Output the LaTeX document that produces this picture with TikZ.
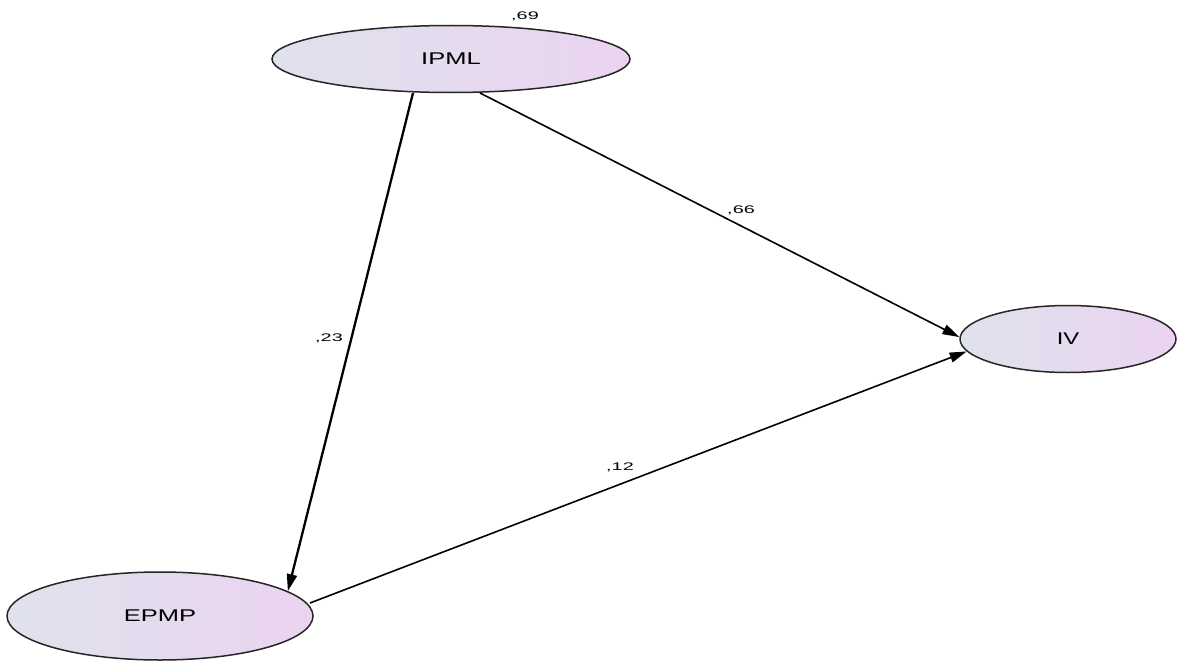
\documentclass[tikz,border=0pt]{standalone}
\usepackage{fontspec}
\setmainfont{Liberation Sans}
\usetikzlibrary{shapes.geometric,arrows.meta}
\definecolor{lft}{HTML}{DFE2EC}
\definecolor{rgt}{HTML}{EBD3F0}
\tikzset{
  latent/.style={ellipse, draw=black!85, line width=1.5pt, left color=lft, right color=rgt, inner sep=0pt},
  lbl/.style={font=\fontsize{11}{13}\selectfont, inner sep=0pt},
  path/.style={draw=black, line width=1.6pt, -{Triangle[length=17pt,width=10pt]}},
}
\newcommand{\wide}[2]{\scalebox{#1}[1]{#2}}
\begin{document}
\begin{tikzpicture}[x=1pt,y=-1pt]
\useasboundingbox[fill=white] (0,0) rectangle (1178,661);
\node[latent, minimum width=358pt, minimum height=67pt] (ipml) at (451,59) {\fontsize{17}{19}\selectfont\wide{1.5}{IPML}};
\node[latent, minimum width=216pt, minimum height=67pt] (iv) at (1068,339) {\fontsize{17}{19}\selectfont\wide{1.4}{IV}};
\node[latent, minimum width=306pt, minimum height=88pt] (epmp) at (160,616) {\fontsize{17}{19}\selectfont\wide{1.5}{EPMP}};
\coordinate (a1) at (413,93);
\coordinate (a2) at (480,93);
\coordinate (b1) at (310,603);
\draw[path, line width=2.3pt] (a1) -- (epmp.11);
\draw[path] (a2) -- (iv.179);
\draw[path] (b1) -- (iv.187);
\node[lbl] (r69) at (525,16) {\wide{1.8}{,69}};
\node[lbl] (r66) at (741,210) {\wide{1.8}{,66}};
\node[lbl] (r23) at (329,338) {\wide{1.8}{,23}};
\node[lbl] (r12) at (620,467) {\wide{1.8}{,12}};
\end{tikzpicture}
\end{document}
